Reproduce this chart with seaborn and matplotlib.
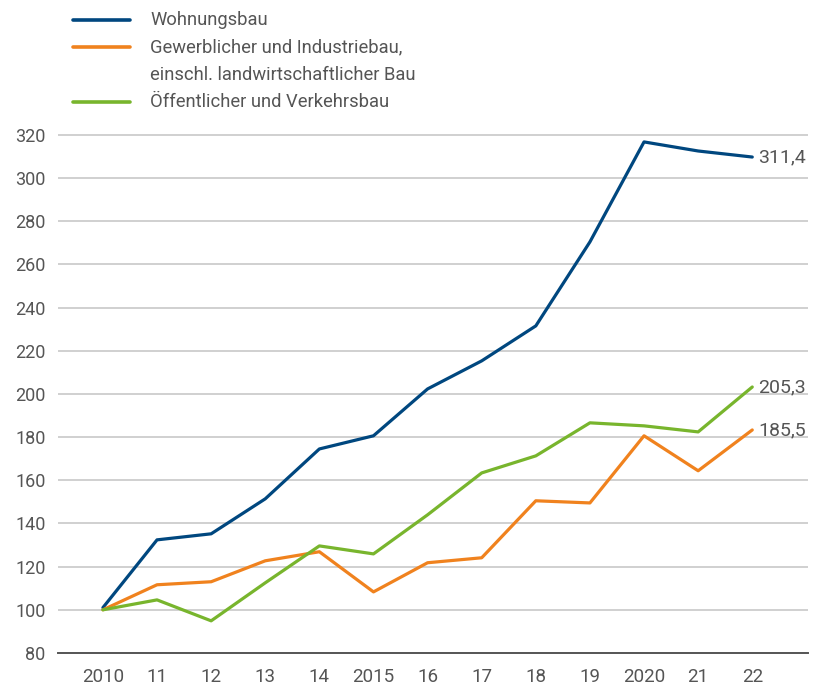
import pandas
import matplotlib.pyplot as pyplot
import seaborn
from matplotlib.lines import Line2D

# style
seaborn.set_style("white")
pyplot.rcParams["font.family"] = ["Roboto", "DejaVu Sans"]
pyplot.rcParams["font.size"] = 12

# data (index, 2010 = 100)
years = list(range(2010, 2023))
year_labels = ["2010", "11", "12", "13", "14", "2015", "16", "17", "18", "19", "2020", "21", "22"]
series_names = [
    "Wohnungsbau",
    "Gewerblicher und Industriebau,\neinschl. landwirtschaftlicher Bau",
    "Öffentlicher und Verkehrsbau",
]
wohnungsbau = [101.0, 132.4, 135.2, 151.4, 174.5, 180.6, 202.3, 215.3, 231.5, 270.4, 316.7, 312.5, 309.7]
gewerbe = [100.0, 111.6, 113.0, 122.7, 126.9, 108.3, 121.8, 124.1, 150.5, 149.5, 180.6, 164.4, 183.3]
oeffentlich = [100.0, 104.6, 94.9, 112.5, 129.6, 125.9, 144.0, 163.4, 171.3, 186.6, 185.2, 182.4, 203.2]
end_labels = ["311,4", "185,5", "205,3"]
colors = ["#00477f", "#f0821e", "#78b52d"]

values = [wohnungsbau, gewerbe, oeffentlich]
rows = []
for name, vals in zip(series_names, values):
    for year, v in zip(years, vals):
        rows.append({"Jahr": year, "Index": v, "Serie": name})
df = pandas.DataFrame(rows)

W, H = 813, 686
fig = pyplot.figure(figsize=(W / 100, H / 100), dpi=100)
ax = fig.add_axes([58 / W, 1 - 653 / H, 750 / W, (653 - 124) / H])

seaborn.lineplot(
    data=df, x="Jahr", y="Index", hue="Serie", hue_order=series_names,
    palette=colors, linewidth=2.3, legend=False, ax=ax,
)

text_color = "#555555"
ax.set_xlim(2009.17, 2023.03)
ax.set_ylim(80, 325)
ax.set_yticks(range(80, 321, 20))
ax.set_xticks(years)
ax.set_xticklabels(year_labels)
ax.tick_params(axis="both", length=0, colors=text_color)
ax.tick_params(axis="x", pad=11, labelsize=13.5)
ax.tick_params(axis="y", pad=9, labelsize=13)
ax.set_xlabel("")
ax.set_ylabel("")
ax.grid(axis="y", color="#c8c8c8", linewidth=1.2)
ax.grid(axis="x", visible=False)
for side in ["top", "right", "left"]:
    ax.spines[side].set_visible(False)
ax.spines["bottom"].set_color("#555555")
ax.spines["bottom"].set_linewidth(1.4)

# end labels
for vals, label in zip(values, end_labels):
    ax.annotate(label, (years[-1], vals[-1]), xytext=(4, 0), textcoords="offset points",
                ha="left", va="center", fontsize=14, color=text_color)

# legend drawn by hand
legend_y = [20, 47, 102]
for name, color, y in zip(series_names, colors, legend_y):
    fig.add_artist(Line2D([73 / W, 130 / W], [1 - y / H] * 2, color=color, linewidth=2.6,
                          solid_capstyle="round"))
    for k, line in enumerate(name.split("\n")):
        fig.text(150 / W, 1 - (y + 28 * k) / H, line, ha="left", va="center",
                 fontsize=13.2, color=text_color)

pyplot.savefig("out.png", dpi=100)
